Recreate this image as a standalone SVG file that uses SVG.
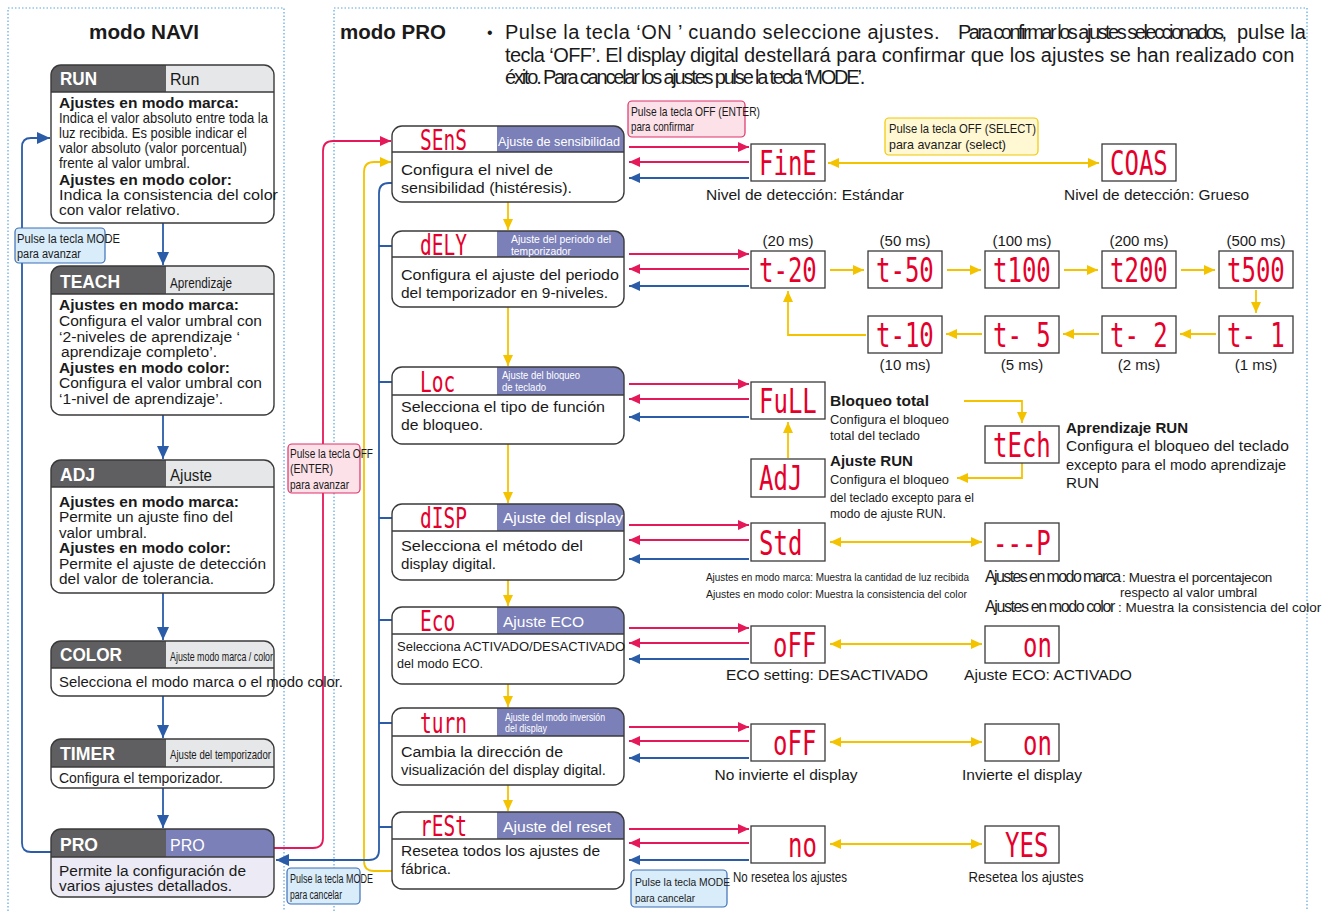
<svg xmlns="http://www.w3.org/2000/svg" width="1344" height="911" viewBox="0 0 1344 911">
<style>
.dot{fill:none;stroke:#5aa6dc;stroke-width:1.2;stroke-dasharray:1.5 2}
.nb{fill:none;stroke:#3a3a3a;stroke-width:1.4}
.nf{fill:#fff}
.hd{fill:#5f5f61}
.hl{fill:#e6e7e8}
.hp{fill:#7b80b9}
.hline{stroke:#3a3a3a;stroke-width:1.4}
.t{font-family:"Liberation Sans",Arial,sans-serif;fill:#1a1a1a}
.b{font-weight:bold}
.hw{font-family:"Liberation Sans",Arial,sans-serif;fill:#fff;font-weight:bold;font-size:19px}
.pw{font-family:"Liberation Sans",Arial,sans-serif;fill:#fff}
.led{font-family:"DejaVu Sans Mono",monospace;fill:#e4002b;font-size:24px}
.ledh{font-family:"DejaVu Sans Mono",monospace;fill:#e4002b;font-size:19.5px}
.box{fill:#fff;stroke:#3a3a3a;stroke-width:1.3}
.ar{fill:none;stroke-width:1.8}
.r{stroke:#e5195a}
.y{stroke:#f4c300}
.bl{stroke:#2b5ca8}
.lp{fill:#fde1e8;stroke:#e0306a;stroke-width:1.2}
.lb{fill:#d9ecf9;stroke:#3d6fb8;stroke-width:1.2}
.ly{fill:#fff8d2;stroke:#f0c800;stroke-width:1.2}
</style>
<defs>
<marker id="mr" viewBox="0 0 11 10" markerWidth="11" markerHeight="10" refX="11" refY="5" orient="auto" markerUnits="userSpaceOnUse"><path d="M0,0 L11,5 L0,10 z" fill="#e5195a"/></marker>
<marker id="my" viewBox="0 0 11 10" markerWidth="11" markerHeight="10" refX="11" refY="5" orient="auto-start-reverse" markerUnits="userSpaceOnUse"><path d="M0,0 L11,5 L0,10 z" fill="#f4c300"/></marker>
<marker id="mb" viewBox="0 0 11 10" markerWidth="11" markerHeight="10" refX="11" refY="5" orient="auto" markerUnits="userSpaceOnUse"><path d="M0,0 L11,5 L0,10 z" fill="#2b5ca8"/></marker>
<marker id="mb2" viewBox="0 0 13 12" markerWidth="13" markerHeight="12" refX="13" refY="6" orient="auto" markerUnits="userSpaceOnUse"><path d="M0,0 L13,6 L0,12 z" fill="#2b5ca8"/></marker>
</defs>
<rect width="1344" height="911" fill="#fff"/>

<!-- panel borders -->
<path class="dot" d="M8,911 V8 H284 V911"/>
<path class="dot" d="M334,911 V8 H1307 V911"/>

<!-- titles -->
<text class="t b" x="89" y="39" font-size="20" textLength="110" lengthAdjust="spacingAndGlyphs">modo NAVI</text>
<text class="t b" x="340" y="39" font-size="20" textLength="106" lengthAdjust="spacingAndGlyphs">modo PRO</text>
<text class="t" x="487" y="38" font-size="16">•</text>
<text class="t" y="39" font-size="20"><tspan x="505" letter-spacing="0.45">Pulse la tecla ‘ON ’ cuando seleccione ajustes.</tspan><tspan x="958" letter-spacing="-2.5">Para confirmar los ajustes seleccionados,</tspan><tspan x="1237">pulse la</tspan></text>
<text class="t" y="62" font-size="20"><tspan x="505" letter-spacing="-0.58">tecla ‘OFF’. El display digital</tspan><tspan x="744">destellará para confirmar que los ajustes se han realizado con</tspan></text>
<text class="t" x="505" y="84" font-size="20" letter-spacing="-2.2">éxito. Para cancelar los ajustes pulse la tecla ‘MODE’.</text>

<!-- connectors -->
<g id="connectors">
  <path class="ar bl" d="M163,223 V265" marker-end="url(#mb2)"/>
  <path class="ar bl" d="M163,415 V459" marker-end="url(#mb2)"/>
  <path class="ar bl" d="M163,593 V640" marker-end="url(#mb2)"/>
  <path class="ar bl" d="M163,696 V738" marker-end="url(#mb2)"/>
  <path class="ar bl" d="M163,788 V828" marker-end="url(#mb2)"/>
  <path class="ar bl" d="M51,852 H31 Q22,852 22,843 V147 Q22,138 31,138 H50" marker-end="url(#mb2)"/>
  <path class="ar r" d="M274,848 H313 Q323,848 323,838 V151 Q323,141 333,141 H391" marker-end="url(#mr)"/>
  <path class="ar y" d="M392,871 H374 Q364,871 364,861 V172 Q364,162 374,162 H391" marker-end="url(#my)"/>
  <path class="ar bl" d="M392,183 H389 Q379,183 379,193 V850 Q379,860 369,860 H276" marker-end="url(#mb2)"/>
  <path class="ar bl" d="M379,246 H392 M379,382 H392 M379,518 H392 M379,620 H392 M379,723 H392 M379,827 H392"/>
  <path class="ar y" d="M508,202 V230" marker-end="url(#my)"/>
  <path class="ar y" d="M508,307 V366" marker-end="url(#my)"/>
  <path class="ar y" d="M508,444 V503" marker-end="url(#my)"/>
  <path class="ar y" d="M508,580 V606" marker-end="url(#my)"/>
  <path class="ar y" d="M508,684 V707" marker-end="url(#my)"/>
  <path class="ar y" d="M508,785 V811" marker-end="url(#my)"/>
  <path class="ar r" d="M629,147 H749" marker-end="url(#mr)"/>
  <path class="ar r" d="M749,162 H629" marker-end="url(#mr)"/>
  <path class="ar bl" d="M749,178 H629" marker-end="url(#mb)"/>
  <path class="ar r" d="M629,254 H749" marker-end="url(#mr)"/>
  <path class="ar r" d="M749,269 H629" marker-end="url(#mr)"/>
  <path class="ar bl" d="M749,286 H629" marker-end="url(#mb)"/>
  <path class="ar r" d="M629,384 H749" marker-end="url(#mr)"/>
  <path class="ar r" d="M749,399 H629" marker-end="url(#mr)"/>
  <path class="ar bl" d="M749,417 H629" marker-end="url(#mb)"/>
  <path class="ar r" d="M629,525 H749" marker-end="url(#mr)"/>
  <path class="ar r" d="M749,540 H629" marker-end="url(#mr)"/>
  <path class="ar bl" d="M749,559 H629" marker-end="url(#mb)"/>
  <path class="ar r" d="M629,628 H749" marker-end="url(#mr)"/>
  <path class="ar r" d="M749,643 H629" marker-end="url(#mr)"/>
  <path class="ar bl" d="M749,659 H629" marker-end="url(#mb)"/>
  <path class="ar r" d="M629,727 H749" marker-end="url(#mr)"/>
  <path class="ar r" d="M749,741 H629" marker-end="url(#mr)"/>
  <path class="ar bl" d="M749,758 H629" marker-end="url(#mb)"/>
  <path class="ar r" d="M629,829 H749" marker-end="url(#mr)"/>
  <path class="ar r" d="M749,843 H629" marker-end="url(#mr)"/>
  <path class="ar bl" d="M749,860 H629" marker-end="url(#mb)"/>
  <path class="ar y" d="M828,163 H1099" marker-start="url(#my)" marker-end="url(#my)"/>
  <path class="ar y" d="M830,270 H864" marker-end="url(#my)"/>
  <path class="ar y" d="M947,270 H981" marker-end="url(#my)"/>
  <path class="ar y" d="M1064,270 H1098" marker-end="url(#my)"/>
  <path class="ar y" d="M1181,270 H1215" marker-end="url(#my)"/>
  <path class="ar y" d="M1256,290 V313" marker-end="url(#my)"/>
  <path class="ar y" d="M1216,334 H1180" marker-end="url(#my)"/>
  <path class="ar y" d="M1099,334 H1063" marker-end="url(#my)"/>
  <path class="ar y" d="M982,334 H946" marker-end="url(#my)"/>
  <path class="ar y" d="M866,335 H788 V291" marker-end="url(#my)"/>
  <path class="ar y" d="M788,458 V422" marker-end="url(#my)"/>
  <path class="ar y" d="M964,401 H1022 V423" marker-end="url(#my)"/>
  <path class="ar y" d="M1022,463 V478 H957" marker-end="url(#my)"/>
  <path class="ar y" d="M830,542 H982" marker-start="url(#my)" marker-end="url(#my)"/>
  <path class="ar y" d="M830,644 H982" marker-start="url(#my)" marker-end="url(#my)"/>
  <path class="ar y" d="M830,742 H982" marker-start="url(#my)" marker-end="url(#my)"/>
  <path class="ar y" d="M830,844 H982" marker-start="url(#my)" marker-end="url(#my)"/>
</g>

<!-- labels on connectors -->
<g id="label-mode-avanzar">
  <rect class="lb" x="15" y="228" width="90" height="35" rx="4"/>
  <text class="t" x="17" y="243" font-size="12.5" textLength="103" lengthAdjust="spacingAndGlyphs">Pulse la tecla MODE</text>
  <text class="t" x="17" y="258" font-size="12.5" textLength="64" lengthAdjust="spacingAndGlyphs">para avanzar</text>
</g>
<g id="label-off-avanzar">
  <rect class="lp" x="288" y="444" width="72" height="49" rx="4"/>
  <text class="t" x="290" y="458" font-size="13" textLength="83" lengthAdjust="spacingAndGlyphs">Pulse la tecla OFF</text>
  <text class="t" x="290" y="473" font-size="13" textLength="43" lengthAdjust="spacingAndGlyphs">(ENTER)</text>
  <text class="t" x="290" y="489" font-size="13" textLength="59" lengthAdjust="spacingAndGlyphs">para avanzar</text>
</g>
<g id="label-mode-cancelar-1">
  <rect class="lb" x="287" y="868" width="73" height="36" rx="4"/>
  <text class="t" x="290" y="883" font-size="12.5" textLength="83" lengthAdjust="spacingAndGlyphs">Pulse la tecla MODE</text>
  <text class="t" x="290" y="899" font-size="12.5" textLength="52" lengthAdjust="spacingAndGlyphs">para cancelar</text>
</g>
<g id="label-mode-cancelar-2">
  <rect class="lb" x="631" y="870" width="96" height="37" rx="4"/>
  <text class="t" x="635" y="886" font-size="11" textLength="95" lengthAdjust="spacingAndGlyphs">Pulse la tecla MODE</text>
  <text class="t" x="635" y="902" font-size="11.5" textLength="60" lengthAdjust="spacingAndGlyphs">para cancelar</text>
</g>
<g id="label-off-confirmar">
  <rect class="lp" x="628" y="101" width="117" height="36" rx="4"/>
  <text class="t" x="631" y="116" font-size="13" textLength="129" lengthAdjust="spacingAndGlyphs">Pulse la tecla OFF (ENTER)</text>
  <text class="t" x="631" y="131" font-size="13" textLength="63" lengthAdjust="spacingAndGlyphs">para confirmar</text>
</g>
<g id="label-off-select">
  <rect class="ly" x="885" y="118" width="153" height="37" rx="4"/>
  <text class="t" x="889" y="133" font-size="13.5" textLength="147" lengthAdjust="spacingAndGlyphs">Pulse la tecla OFF (SELECT)</text>
  <text class="t" x="889" y="149" font-size="13.5" textLength="117" lengthAdjust="spacingAndGlyphs">para avanzar (select)</text>
</g>

<!-- NAVI nodes -->
<g id="node-run">
  <rect class="nf" x="51" y="65" width="223" height="158" rx="10"/>
  <path class="hd" d="M51,92 V75 Q51,65 61,65 H166 V92 Z"/>
  <path class="hl" d="M166,65 H264 Q274,65 274,75 V92 H166 Z"/>
  <line class="hline" x1="51" y1="92" x2="274" y2="92"/>
  <rect class="nb" x="51" y="65" width="223" height="158" rx="10"/>
  <text class="hw" x="60" y="85" textLength="37" lengthAdjust="spacingAndGlyphs">RUN</text>
  <text class="t" x="170" y="85" font-size="16">Run</text>
  <text class="t b" x="59" y="108" font-size="15" textLength="180" lengthAdjust="spacingAndGlyphs">Ajustes en modo marca:</text>
  <text class="t" x="59" y="123" font-size="14.5" textLength="209" lengthAdjust="spacingAndGlyphs">Indica el valor absoluto entre toda la</text>
  <text class="t" x="59" y="138" font-size="14.5" textLength="188" lengthAdjust="spacingAndGlyphs">luz recibida. Es posible indicar el</text>
  <text class="t" x="59" y="153" font-size="14.5" textLength="188" lengthAdjust="spacingAndGlyphs">valor absoluto  (valor porcentual)</text>
  <text class="t" x="59" y="168" font-size="14.5" textLength="131" lengthAdjust="spacingAndGlyphs">frente al valor umbral.</text>
  <text class="t b" x="59" y="185" font-size="15" textLength="173" lengthAdjust="spacingAndGlyphs">Ajustes en modo color:</text>
  <text class="t" x="59" y="200" font-size="15.5" textLength="219" lengthAdjust="spacingAndGlyphs">Indica la consistencia del color</text>
  <text class="t" x="59" y="215" font-size="15.5" textLength="121" lengthAdjust="spacingAndGlyphs">con valor relativo.</text>
</g>
<g id="node-teach">
  <rect class="nf" x="51" y="266" width="223" height="149" rx="10"/>
  <path class="hd" d="M51,294 V276 Q51,266 61,266 H166 V294 Z"/>
  <path class="hl" d="M166,266 H264 Q274,266 274,276 V294 H166 Z"/>
  <line class="hline" x1="51" y1="294" x2="274" y2="294"/>
  <rect class="nb" x="51" y="266" width="223" height="149" rx="10"/>
  <text class="hw" x="60" y="288" textLength="60" lengthAdjust="spacingAndGlyphs">TEACH</text>
  <text class="t" x="170" y="288" font-size="15" textLength="62" lengthAdjust="spacingAndGlyphs">Aprendizaje</text>
  <text class="t b" x="59" y="310" font-size="15" textLength="180" lengthAdjust="spacingAndGlyphs">Ajustes en modo marca:</text>
  <text class="t" x="59" y="326" font-size="15.5" textLength="203" lengthAdjust="spacingAndGlyphs">Configura el valor umbral con</text>
  <text class="t" x="59" y="342" font-size="15.5" textLength="181" lengthAdjust="spacingAndGlyphs">‘2-niveles de aprendizaje ‘</text>
  <text class="t" x="61" y="357" font-size="15.5" textLength="156" lengthAdjust="spacingAndGlyphs">aprendizaje completo’.</text>
  <text class="t b" x="59" y="373" font-size="15" textLength="171" lengthAdjust="spacingAndGlyphs">Ajustes en modo color:</text>
  <text class="t" x="59" y="388" font-size="15.5" textLength="203" lengthAdjust="spacingAndGlyphs">Configura el valor umbral con</text>
  <text class="t" x="59" y="404" font-size="15.5" textLength="164" lengthAdjust="spacingAndGlyphs">‘1-nivel de aprendizaje’.</text>
</g>
<g id="node-adj">
  <rect class="nf" x="51" y="460" width="223" height="133" rx="10"/>
  <path class="hd" d="M51,487 V470 Q51,460 61,460 H166 V487 Z"/>
  <path class="hl" d="M166,460 H264 Q274,460 274,470 V487 H166 Z"/>
  <line class="hline" x1="51" y1="487" x2="274" y2="487"/>
  <rect class="nb" x="51" y="460" width="223" height="133" rx="10"/>
  <text class="hw" x="60" y="481" textLength="35" lengthAdjust="spacingAndGlyphs">ADJ</text>
  <text class="t" x="170" y="481" font-size="16" textLength="42" lengthAdjust="spacingAndGlyphs">Ajuste</text>
  <text class="t b" x="59" y="507" font-size="15" textLength="180" lengthAdjust="spacingAndGlyphs">Ajustes en modo marca:</text>
  <text class="t" x="59" y="522" font-size="15.5" textLength="174" lengthAdjust="spacingAndGlyphs">Permite un ajuste fino del</text>
  <text class="t" x="59" y="538" font-size="15.5" textLength="88" lengthAdjust="spacingAndGlyphs">valor umbral.</text>
  <text class="t b" x="59" y="553" font-size="15" textLength="172" lengthAdjust="spacingAndGlyphs">Ajustes en modo color:</text>
  <text class="t" x="59" y="569" font-size="15.5" textLength="207" lengthAdjust="spacingAndGlyphs">Permite el ajuste de detección</text>
  <text class="t" x="59" y="584" font-size="15.5" textLength="155" lengthAdjust="spacingAndGlyphs">del valor de tolerancia.</text>
</g>
<g id="node-color">
  <rect class="nf" x="51" y="641" width="223" height="55" rx="10"/>
  <path class="hd" d="M51,668 V651 Q51,641 61,641 H166 V668 Z"/>
  <path class="hl" d="M166,641 H264 Q274,641 274,651 V668 H166 Z"/>
  <line class="hline" x1="51" y1="668" x2="274" y2="668"/>
  <rect class="nb" x="51" y="641" width="223" height="55" rx="10"/>
  <text class="hw" x="60" y="661" textLength="62" lengthAdjust="spacingAndGlyphs">COLOR</text>
  <text class="t" x="170" y="661" font-size="13" textLength="103" lengthAdjust="spacingAndGlyphs">Ajuste modo marca / color</text>
  <text class="t" x="59" y="687" font-size="15.5" textLength="284" lengthAdjust="spacingAndGlyphs">Selecciona el modo marca o el modo color.</text>
</g>
<g id="node-timer">
  <rect class="nf" x="51" y="739" width="223" height="49" rx="10"/>
  <path class="hd" d="M51,767 V749 Q51,739 61,739 H166 V767 Z"/>
  <path class="hl" d="M166,739 H264 Q274,739 274,749 V767 H166 Z"/>
  <line class="hline" x1="51" y1="767" x2="274" y2="767"/>
  <rect class="nb" x="51" y="739" width="223" height="49" rx="10"/>
  <text class="hw" x="60" y="760" textLength="55" lengthAdjust="spacingAndGlyphs">TIMER</text>
  <text class="t" x="170" y="759" font-size="13" textLength="101" lengthAdjust="spacingAndGlyphs">Ajuste del temporizador</text>
  <text class="t" x="59" y="783" font-size="15.5" textLength="164" lengthAdjust="spacingAndGlyphs">Configura el temporizador.</text>
</g>
<g id="node-pro">
  <rect x="51" y="829" width="223" height="68" rx="10" fill="#ecebf5"/>
  <path class="hd" d="M51,857 V839 Q51,829 61,829 H166 V857 Z"/>
  <path class="hp" d="M166,829 H264 Q274,829 274,839 V857 H166 Z"/>
  <line class="hline" x1="51" y1="857" x2="274" y2="857"/>
  <rect class="nb" x="51" y="829" width="223" height="68" rx="10"/>
  <text class="hw" x="60" y="851" textLength="38" lengthAdjust="spacingAndGlyphs">PRO</text>
  <text class="pw" x="170" y="851" font-size="16">PRO</text>
  <text class="t" x="59" y="876" font-size="15.5" textLength="187" lengthAdjust="spacingAndGlyphs">Permite la configuración de</text>
  <text class="t" x="59" y="891" font-size="15.5" textLength="173" lengthAdjust="spacingAndGlyphs">varios ajustes detallados.</text>
</g>

<!-- PRO mode nodes -->
<g id="node-sens">
  <rect class="nf" x="392" y="126" width="232" height="76" rx="10"/>
  <path class="hp" d="M497,126 H614 Q624,126 624,136 V152 H497 Z"/>
  <line class="hline" x1="392" y1="152" x2="624" y2="152"/>
  <rect class="nb" x="392" y="126" width="232" height="76" rx="10"/>
  <text class="ledh" transform="translate(420,150) scale(1,1.45)">SEnS</text>
  <text class="pw" x="498" y="146" font-size="13" textLength="122" lengthAdjust="spacingAndGlyphs">Ajuste de sensibilidad</text>
  <text class="t" x="401" y="175" font-size="15.5" textLength="152" lengthAdjust="spacingAndGlyphs">Configura el nivel de</text>
  <text class="t" x="401" y="193" font-size="15.5" textLength="171" lengthAdjust="spacingAndGlyphs">sensibilidad (histéresis).</text>
</g>
<g id="node-dely">
  <rect class="nf" x="392" y="231" width="232" height="76" rx="10"/>
  <path class="hp" d="M497,231 H614 Q624,231 624,241 V257 H497 Z"/>
  <line class="hline" x1="392" y1="257" x2="624" y2="257"/>
  <rect class="nb" x="392" y="231" width="232" height="76" rx="10"/>
  <text class="ledh" transform="translate(420,255) scale(1,1.45)">dELY</text>
  <text class="pw" x="511" y="243" font-size="11" textLength="100" lengthAdjust="spacingAndGlyphs">Ajuste del periodo del</text>
  <text class="pw" x="511" y="255" font-size="11" textLength="60" lengthAdjust="spacingAndGlyphs">temporizador</text>
  <text class="t" x="401" y="280" font-size="15.5" textLength="218" lengthAdjust="spacingAndGlyphs">Configura el ajuste del periodo</text>
  <text class="t" x="401" y="298" font-size="15.5" textLength="207" lengthAdjust="spacingAndGlyphs">del temporizador en 9-niveles.</text>
</g>
<g id="node-loc">
  <rect class="nf" x="392" y="367" width="232" height="77" rx="10"/>
  <path class="hp" d="M497,367 H614 Q624,367 624,377 V395 H497 Z"/>
  <line class="hline" x1="392" y1="395" x2="624" y2="395"/>
  <rect class="nb" x="392" y="367" width="232" height="77" rx="10"/>
  <text class="ledh" transform="translate(420,392) scale(1,1.45)">Loc</text>
  <text class="pw" x="502" y="379" font-size="10" textLength="78" lengthAdjust="spacingAndGlyphs">Ajuste del bloqueo</text>
  <text class="pw" x="502" y="391" font-size="10" textLength="44" lengthAdjust="spacingAndGlyphs">de teclado</text>
  <text class="t" x="401" y="412" font-size="15.5" textLength="204" lengthAdjust="spacingAndGlyphs">Selecciona el tipo de función</text>
  <text class="t" x="401" y="430" font-size="15.5" textLength="82" lengthAdjust="spacingAndGlyphs">de bloqueo.</text>
</g>
<g id="node-disp">
  <rect class="nf" x="392" y="504" width="232" height="76" rx="10"/>
  <path class="hp" d="M497,504 H614 Q624,504 624,514 V531 H497 Z"/>
  <line class="hline" x1="392" y1="531" x2="624" y2="531"/>
  <rect class="nb" x="392" y="504" width="232" height="76" rx="10"/>
  <text class="ledh" transform="translate(420,528) scale(1,1.45)">dISP</text>
  <text class="pw" x="503" y="523" font-size="15.5" textLength="120" lengthAdjust="spacingAndGlyphs">Ajuste del display</text>
  <text class="t" x="401" y="551" font-size="15.5" textLength="182" lengthAdjust="spacingAndGlyphs">Selecciona el método del</text>
  <text class="t" x="401" y="569" font-size="15.5" textLength="95" lengthAdjust="spacingAndGlyphs">display digital.</text>
</g>
<g id="node-eco">
  <rect class="nf" x="392" y="607" width="232" height="77" rx="10"/>
  <path class="hp" d="M497,607 H614 Q624,607 624,617 V634 H497 Z"/>
  <line class="hline" x1="392" y1="634" x2="624" y2="634"/>
  <rect class="nb" x="392" y="607" width="232" height="77" rx="10"/>
  <text class="ledh" transform="translate(420,631) scale(1,1.45)">Eco</text>
  <text class="pw" x="503" y="627" font-size="15.5" textLength="81" lengthAdjust="spacingAndGlyphs">Ajuste ECO</text>
  <text class="t" x="397" y="651" font-size="13.5" textLength="228" lengthAdjust="spacingAndGlyphs">Selecciona ACTIVADO/DESACTIVADO</text>
  <text class="t" x="397" y="668" font-size="13.5" textLength="86" lengthAdjust="spacingAndGlyphs">del modo ECO.</text>
</g>
<g id="node-turn">
  <rect class="nf" x="392" y="708" width="232" height="77" rx="10"/>
  <path class="hp" d="M497,708 H614 Q624,708 624,718 V736 H497 Z"/>
  <line class="hline" x1="392" y1="736" x2="624" y2="736"/>
  <rect class="nb" x="392" y="708" width="232" height="77" rx="10"/>
  <text class="ledh" transform="translate(420,733) scale(1,1.45)">turn</text>
  <text class="pw" x="505" y="721" font-size="11" textLength="100" lengthAdjust="spacingAndGlyphs">Ajuste del modo inversión</text>
  <text class="pw" x="505" y="732" font-size="11" textLength="42" lengthAdjust="spacingAndGlyphs">del display</text>
  <text class="t" x="401" y="757" font-size="15.5" textLength="162" lengthAdjust="spacingAndGlyphs">Cambia la dirección de</text>
  <text class="t" x="401" y="775" font-size="15.5" textLength="205" lengthAdjust="spacingAndGlyphs">visualización del display digital.</text>
</g>
<g id="node-rest">
  <rect class="nf" x="392" y="812" width="232" height="77" rx="10"/>
  <path class="hp" d="M497,812 H614 Q624,812 624,822 V839 H497 Z"/>
  <line class="hline" x1="392" y1="839" x2="624" y2="839"/>
  <rect class="nb" x="392" y="812" width="232" height="77" rx="10"/>
  <text class="ledh" transform="translate(420,836) scale(1,1.45)">rESt</text>
  <text class="pw" x="503" y="832" font-size="15.5" textLength="108" lengthAdjust="spacingAndGlyphs">Ajuste del reset</text>
  <text class="t" x="401" y="856" font-size="15.5" textLength="199" lengthAdjust="spacingAndGlyphs">Resetea todos los ajustes de</text>
  <text class="t" x="401" y="874" font-size="15.5" textLength="50" lengthAdjust="spacingAndGlyphs">fábrica.</text>
</g>

<!-- LED display nodes -->
<g id="led-fine"><rect class="box" x="751" y="144" width="74" height="37"/><text class="led" transform="translate(759,175) scale(1,1.4)">FinE</text>
  <text class="t" x="706" y="200" font-size="15.5" textLength="198" lengthAdjust="spacingAndGlyphs">Nivel de detección: Estándar</text></g>
<g id="led-coas"><rect class="box" x="1102" y="144" width="74" height="37"/><text class="led" transform="translate(1110,175) scale(1,1.4)">COAS</text>
  <text class="t" x="1064" y="200" font-size="15.5" textLength="185" lengthAdjust="spacingAndGlyphs">Nivel de detección: Grueso</text></g>

<g id="led-t20"><rect class="box" x="751" y="251" width="74" height="37"/><text class="led" transform="translate(759,282) scale(1,1.4)">t-20</text>
  <text class="t" x="788" y="246" font-size="15" text-anchor="middle">(20 ms)</text></g>
<g id="led-t50"><rect class="box" x="868" y="251" width="74" height="37"/><text class="led" transform="translate(876,282) scale(1,1.4)">t-50</text>
  <text class="t" x="905" y="246" font-size="15" text-anchor="middle">(50 ms)</text></g>
<g id="led-t100"><rect class="box" x="985" y="251" width="74" height="37"/><text class="led" transform="translate(993,282) scale(1,1.4)">t100</text>
  <text class="t" x="1022" y="246" font-size="15" text-anchor="middle">(100 ms)</text></g>
<g id="led-t200"><rect class="box" x="1102" y="251" width="74" height="37"/><text class="led" transform="translate(1110,282) scale(1,1.4)">t200</text>
  <text class="t" x="1139" y="246" font-size="15" text-anchor="middle">(200 ms)</text></g>
<g id="led-t500"><rect class="box" x="1219" y="251" width="74" height="37"/><text class="led" transform="translate(1227,282) scale(1,1.4)">t500</text>
  <text class="t" x="1256" y="246" font-size="15" text-anchor="middle">(500 ms)</text></g>
<g id="led-t1"><rect class="box" x="1219" y="316" width="74" height="37"/><text class="led" transform="translate(1227,347) scale(1,1.4)" xml:space="preserve">t- 1</text>
  <text class="t" x="1256" y="370" font-size="15" text-anchor="middle">(1 ms)</text></g>
<g id="led-t2"><rect class="box" x="1102" y="316" width="74" height="37"/><text class="led" transform="translate(1110,347) scale(1,1.4)" xml:space="preserve">t- 2</text>
  <text class="t" x="1139" y="370" font-size="15" text-anchor="middle">(2 ms)</text></g>
<g id="led-t5"><rect class="box" x="985" y="316" width="74" height="37"/><text class="led" transform="translate(993,347) scale(1,1.4)" xml:space="preserve">t- 5</text>
  <text class="t" x="1022" y="370" font-size="15" text-anchor="middle">(5 ms)</text></g>
<g id="led-t10"><rect class="box" x="868" y="316" width="74" height="37"/><text class="led" transform="translate(876,347) scale(1,1.4)">t-10</text>
  <text class="t" x="905" y="370" font-size="15" text-anchor="middle">(10 ms)</text></g>

<g id="led-full"><rect class="box" x="751" y="382" width="74" height="37"/><text class="led" transform="translate(759,413) scale(1,1.4)">FuLL</text>
  <text class="t b" x="830" y="406" font-size="15" textLength="99" lengthAdjust="spacingAndGlyphs">Bloqueo total</text>
  <text class="t" x="830" y="424" font-size="12.5" textLength="119" lengthAdjust="spacingAndGlyphs">Configura el bloqueo</text>
  <text class="t" x="830" y="440" font-size="12.5" textLength="90" lengthAdjust="spacingAndGlyphs">total del teclado</text></g>
<g id="led-adj"><rect class="box" x="751" y="459" width="74" height="38"/><text class="led" transform="translate(759,490) scale(1,1.4)">AdJ</text>
  <text class="t b" x="830" y="466" font-size="15" textLength="83" lengthAdjust="spacingAndGlyphs">Ajuste RUN</text>
  <text class="t" x="830" y="484" font-size="12.5" textLength="119" lengthAdjust="spacingAndGlyphs">Configura el bloqueo</text>
  <text class="t" x="830" y="502" font-size="12.5" textLength="144" lengthAdjust="spacingAndGlyphs">del teclado excepto para el</text>
  <text class="t" x="830" y="518" font-size="12.5" textLength="116" lengthAdjust="spacingAndGlyphs">modo de ajuste RUN.</text></g>
<g id="led-tech"><rect class="box" x="985" y="426" width="74" height="37"/><text class="led" transform="translate(993,457) scale(1,1.4)">tEch</text>
  <text class="t b" x="1066" y="433" font-size="15" textLength="122" lengthAdjust="spacingAndGlyphs">Aprendizaje RUN</text>
  <text class="t" x="1066" y="451" font-size="15" textLength="223" lengthAdjust="spacingAndGlyphs">Configura el bloqueo del teclado</text>
  <text class="t" x="1066" y="470" font-size="15" textLength="220" lengthAdjust="spacingAndGlyphs">excepto para el modo aprendizaje</text>
  <text class="t" x="1066" y="488" font-size="15" textLength="33" lengthAdjust="spacingAndGlyphs">RUN</text></g>

<g id="led-std"><rect class="box" x="751" y="523" width="74" height="38"/><text class="led" transform="translate(759,555) scale(1,1.4)">Std</text>
  <text class="t" x="706" y="581" font-size="11.5" textLength="263" lengthAdjust="spacingAndGlyphs">Ajustes en modo marca: Muestra la cantidad de luz recibida</text>
  <text class="t" x="706" y="598" font-size="11.5" textLength="261" lengthAdjust="spacingAndGlyphs">Ajustes en modo color: Muestra la consistencia del color</text></g>
<g id="led-p"><rect class="box" x="985" y="523" width="74" height="38"/><text class="led" transform="translate(993,555) scale(1,1.4)">---P</text>
  <text class="t" y="582"><tspan x="985" font-size="16" letter-spacing="-1.6">Ajustes en modo marca</tspan><tspan x="1122" font-size="13.5" letter-spacing="-0.35">: Muestra el porcentajecon</tspan></text>
  <text class="t" x="1120" y="597" font-size="13.5" textLength="137" lengthAdjust="spacingAndGlyphs">respecto al valor umbral</text>
  <text class="t" y="612"><tspan x="985" font-size="16" letter-spacing="-1.4">Ajustes en modo color</tspan><tspan x="1118" font-size="13.5">: Muestra la consistencia del color</tspan></text></g>

<g id="led-eco-off"><rect class="box" x="751" y="626" width="74" height="37"/><text class="led" transform="translate(773,657) scale(1,1.4)">oFF</text>
  <text class="t" x="827" y="680" font-size="15.5" text-anchor="middle" textLength="202" lengthAdjust="spacingAndGlyphs">ECO setting: DESACTIVADO</text></g>
<g id="led-eco-on"><rect class="box" x="985" y="626" width="74" height="37"/><text class="led" transform="translate(1023,657) scale(1,1.4)">on</text>
  <text class="t" x="1048" y="680" font-size="15.5" text-anchor="middle" textLength="168" lengthAdjust="spacingAndGlyphs">Ajuste ECO: ACTIVADO</text></g>
<g id="led-turn-off"><rect class="box" x="751" y="724" width="74" height="37"/><text class="led" transform="translate(773,755) scale(1,1.4)">oFF</text>
  <text class="t" x="786" y="780" font-size="15.5" text-anchor="middle" textLength="143" lengthAdjust="spacingAndGlyphs">No invierte el display</text></g>
<g id="led-turn-on"><rect class="box" x="985" y="724" width="74" height="37"/><text class="led" transform="translate(1023,755) scale(1,1.4)">on</text>
  <text class="t" x="1022" y="780" font-size="15.5" text-anchor="middle" textLength="120" lengthAdjust="spacingAndGlyphs">Invierte el display</text></g>
<g id="led-no"><rect class="box" x="751" y="826" width="74" height="37"/><text class="led" transform="translate(788,857) scale(1,1.4)">no</text>
  <text class="t" x="790" y="882" font-size="14" text-anchor="middle" textLength="114" lengthAdjust="spacingAndGlyphs">No resetea los ajustes</text></g>
<g id="led-yes"><rect class="box" x="985" y="826" width="74" height="37"/><text class="led" transform="translate(1005,857) scale(1,1.4)">YES</text>
  <text class="t" x="1026" y="882" font-size="14" text-anchor="middle" textLength="115" lengthAdjust="spacingAndGlyphs">Resetea los ajustes</text></g>
</svg>
